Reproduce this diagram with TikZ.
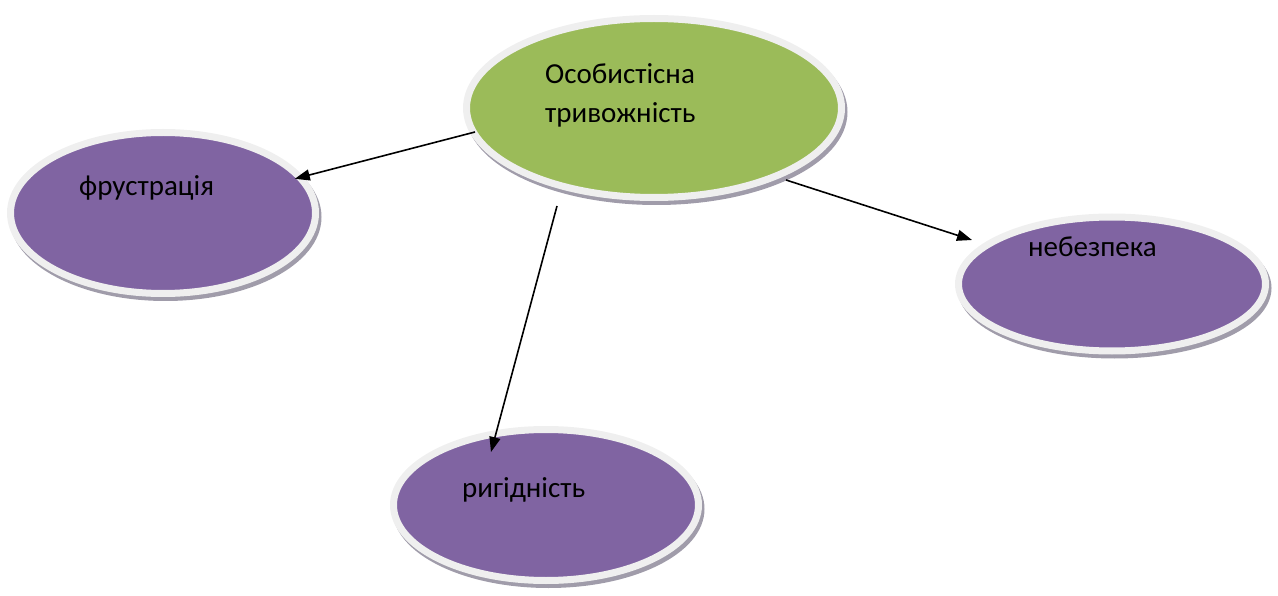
\documentclass[tikz,border=0pt]{standalone}
\usepackage{fontspec}
\setmainfont{Carlito}
\usetikzlibrary{arrows.meta,calc,shapes.geometric}
\definecolor{oval}{HTML}{8064A2}
\definecolor{ovalgreen}{HTML}{9BBB59}
\definecolor{ring}{HTML}{EFEFEF}
\definecolor{shade}{HTML}{A09CAA}
\tikzset{
  bubble/.style={ellipse, inner sep=0pt, draw=ring, line width=7pt,
    preaction={draw=shade, fill=shade, line width=7pt, transform canvas={shift={(2.5pt,-4pt)}}}},
  label/.style={font=\fontsize{29}{39}\selectfont, inner sep=0pt, anchor=base west, align=left},
  conn/.style={line width=1.6pt, -{Triangle[length=15pt,width=11pt]}}
}
\begin{document}
\begin{tikzpicture}[x=1pt,y=-1pt]
\useasboundingbox (0,0) rectangle (1278,596);
\node[bubble, fill=ovalgreen, minimum width=375pt, minimum height=179pt] (g) at (654,108) {};
\node[bubble, fill=oval, minimum width=305pt, minimum height=161pt] (f) at (163,213) {};
\node[bubble, fill=oval, minimum width=307pt, minimum height=134pt] (n) at (1112,284) {};
\node[bubble, fill=oval, minimum width=305pt, minimum height=151pt] (r) at (546,505) {};
\node[label] (gt1) at (545,84) {Особистісна};
\node[label] (gt2) at (545,123) {тривожність};
\node[label] (ft) at (79,196) {фрустрація};
\node[label] (nt) at (1028,257) {небезпека};
\node[label] (rt) at (462,497) {ригідність};
\coordinate (g1) at ($(g)+(-179,24)$);
\coordinate (g2) at ($(g)+(132,72)$);
\coordinate (n2) at ($(n)+(-140,-44)$);
\coordinate (g3) at ($(g)+(-97,98)$);
\coordinate (r3) at ($(r)+(-55,-53)$);
\draw[conn, shorten >=-9pt] (g1) -- (f);
\draw[conn] (g2) -- (n2);
\draw[conn] (g3) -- (r3);
\end{tikzpicture}
\end{document}
